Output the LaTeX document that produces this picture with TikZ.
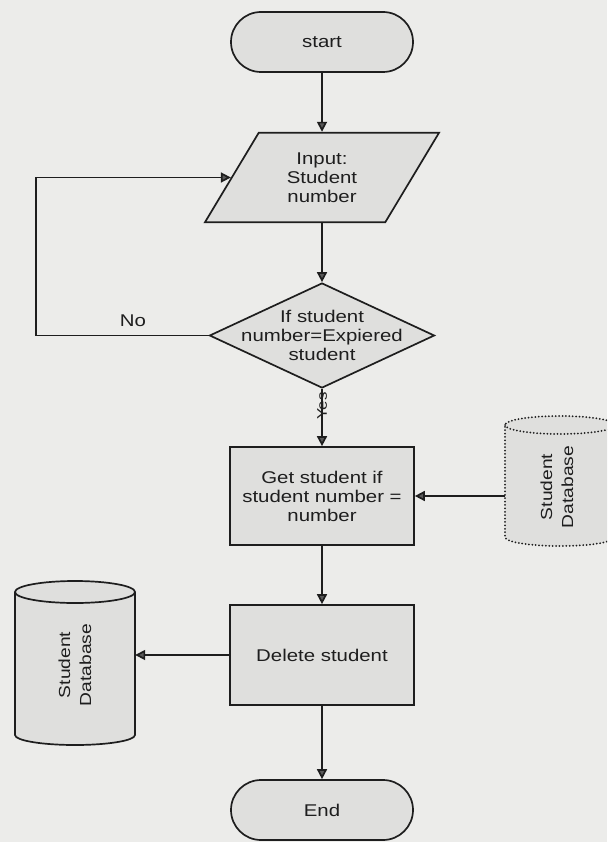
\documentclass[tikz,border=0pt]{standalone}
\usepackage{fontspec}
\setmainfont{Liberation Sans}[FakeStretch=1.2]
\usetikzlibrary{shapes.geometric,shapes.misc,arrows.meta}
\definecolor{paper}{HTML}{ECECEA}
\definecolor{boxfill}{HTML}{DFDFDD}
\definecolor{ink}{HTML}{1E1E1E}
\definecolor{tipfill}{HTML}{5A5A5A}
\begin{document}
\begin{tikzpicture}[x=1pt,y=-1pt,
  every node/.style={text=ink, align=center, font=\fontsize{17}{19}\selectfont},
  shapebase/.style={draw=ink, line width=1.7pt, fill=boxfill, inner sep=0pt},
  terminal/.style={shapebase, rounded rectangle, minimum width=182pt, minimum height=60pt},
  iobox/.style={shapebase, trapezium, trapezium left angle=59, trapezium right angle=121,
                minimum width=235pt, minimum height=89pt},
  decision/.style={shapebase, diamond, minimum width=225pt, minimum height=105pt},
  process/.style={shapebase, rectangle, minimum width=184pt, minimum height=98pt},
  dbbody/.style={fill=boxfill, draw=ink, line width=1.7pt, line join=round},
  dbdotted/.style={draw=ink, line width=2pt, line cap=round, dash pattern=on 0pt off 3.4pt},
  dbtext/.style={rotate=90, font=\fontsize{16}{21}\selectfont},
  flow/.style={draw=ink, line width=1.7pt, -{Triangle[length=10pt,width=10pt,fill=tipfill]}},
  tag/.style={font=\fontsize{17}{19}\selectfont},
  smalltag/.style={font=\fontsize{14}{16}\selectfont}
]
\useasboundingbox (0,0) rectangle (607,842);
\fill[paper] (0,0) rectangle (607,842);

% main column
\node[terminal] (start) at (322,42) {start};
\node[iobox] (input) at (322,177.5) {Input:\\Student\\number};
\node[decision, label={[name=decText]center:{If student\\number=Expiered\\student}}] (dec) at (322,335.5) {};
\node[process] (get) at (322,496) {Get student if\\student number =\\number};
\node[process, minimum height=100pt] (del) at (322,655) {Delete student};
\node[terminal] (end) at (322,810) {End};

% left data store
\path[dbbody] (15,592) -- (15,735)
  arc[start angle=180, end angle=360, x radius=60pt, y radius=10pt]
  -- (135,592)
  arc[start angle=0, end angle=180, x radius=60pt, y radius=11pt] -- cycle;
\draw[ink, line width=1.7pt] (15,592) arc[start angle=180, end angle=360, x radius=60pt, y radius=11pt];
\node[minimum width=120pt, minimum height=143pt, inner sep=0pt] (dbL) at (75,663.5) {};
\node[dbtext] (dbLtext) at (75,665) {Student\\Database};

% right data store (dotted, runs off the edge)
\begin{scope}
  \clip (0,0) rectangle (607,842);
  \path[fill=boxfill] (505,425) -- (505,537)
    arc[start angle=180, end angle=360, x radius=55pt, y radius=9pt]
    -- (615,425)
    arc[start angle=0, end angle=180, x radius=55pt, y radius=9pt] -- cycle;
  \draw[dbdotted] (615,425) arc[start angle=0, end angle=180, x radius=55pt, y radius=9pt]
    -- (505,537) arc[start angle=180, end angle=360, x radius=55pt, y radius=9pt];
  \draw[dbdotted] (505,425) arc[start angle=180, end angle=360, x radius=55pt, y radius=9pt];
\end{scope}
\node[minimum width=110pt, minimum height=112pt, inner sep=0pt] (dbR) at (560,481) {};
\node[dbtext] (dbRtext) at (557,487) {Student\\Database};

% connectors
\coordinate (loopL) at (36,258);
\draw[flow] (start) -- (input);
\draw[flow] (input) -- (dec);
\draw[flow] (dec.west) -| (loopL) |- (input.west);
\node[tag] (noLabel) at (133,321) {No};
\draw[flow] (dec) -- (get) node[smalltag, pos=0.3, rotate=90] (yesLabel) {Yes};
\draw[flow] (dbR.west |- get.east) -- (get.east);
\draw[flow] (get) -- (del);
\draw[flow] (del.west) -- (del.west -| dbL.east);
\draw[flow] (del) -- (end);
\end{tikzpicture}
\end{document}
